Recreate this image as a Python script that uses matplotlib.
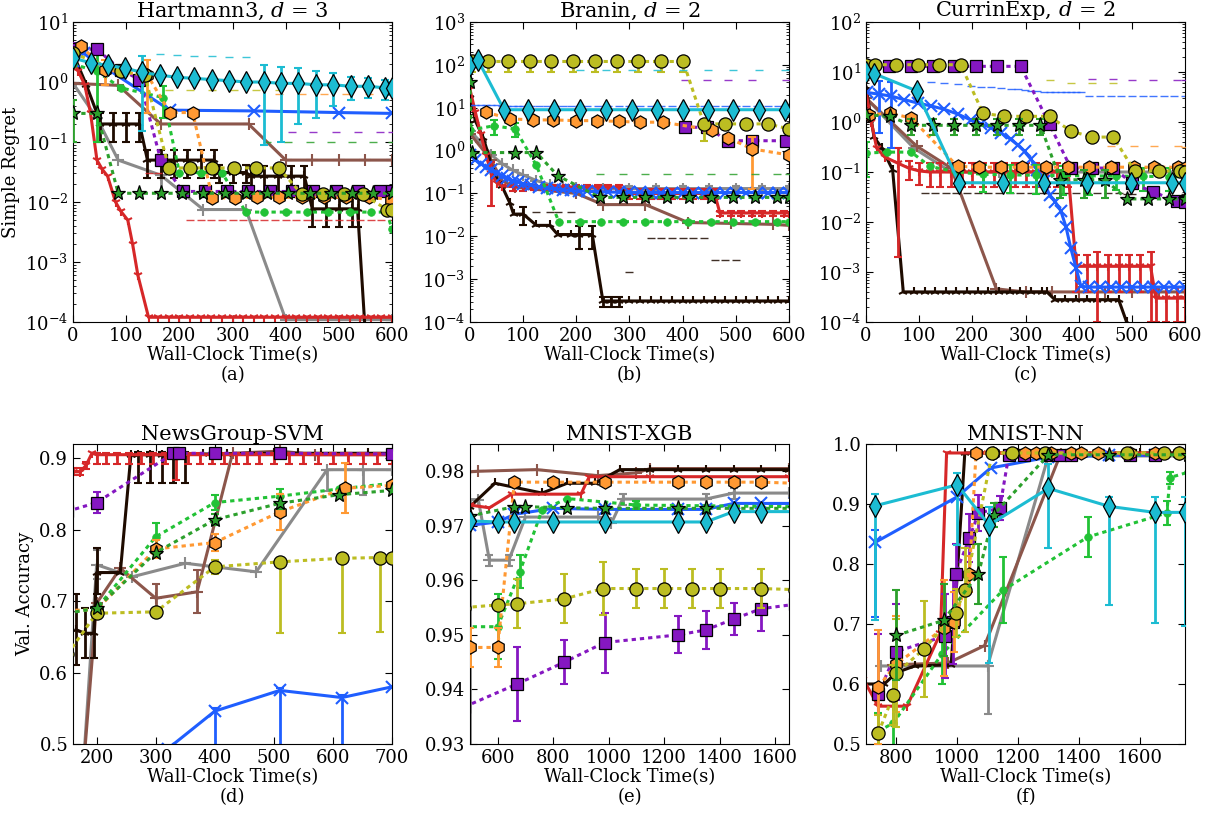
import matplotlib
matplotlib.use('Agg')
import matplotlib.pyplot as plt
from matplotlib.ticker import LogLocator, NullFormatter

plt.rcParams['font.family'] = ['DejaVu Serif']
plt.rcParams['mathtext.fontset'] = 'dejavuserif'

# ---------------- Panel (a) Hartmann3 ----------------
a_cyan_x = [0, 33, 65, 98, 130, 163, 196, 228, 261, 294, 326, 359, 391, 424, 457, 489, 522, 555, 587, 600]
a_cyan_y = [2.5, 2.1, 1.9, 1.7, 1.45, 1.3, 1.2, 1.15, 1.1, 1.05, 1.0, 1.0, 0.95, 0.95, 0.9, 0.9, 0.85, 0.85, 0.8, 0.8]
a_cyan_e = [0, 0, 0, 0, 1.3, 1.6, 1.6, 1.6, 1.6, 1.6, 1.6, 0.91, 0.85, 0.75, 0.65, 0.5, 0.35, 0.3, 0.3, 0.2]
a_blue_x = [0, 20, 182, 340, 500, 600]
a_blue_y = [2.2, 3.0, 0.34, 0.33, 0.31, 0.30]
a_red_x = [0, 10, 22, 33, 45, 55, 65, 80, 90, 103, 112, 122, 142, 160, 180, 200, 220, 240, 260, 280,
           300, 320, 340, 360, 380, 400, 420, 440, 460, 480, 500, 520, 540, 560, 580, 600]
a_red_y = [2.3, 1.5, 0.9, 0.3, 0.05, 0.035, 0.027, 0.01, 0.007, 0.005, 0.002, 0.0006, 0.00012, 0.00012,
           0.00012, 0.00012, 0.00012, 0.00012, 0.00012, 0.00012, 0.00012, 0.00012, 0.00012, 0.00012,
           0.00012, 0.00012, 0.00012, 0.00012, 0.00012, 0.00012, 0.00012, 0.00012, 0.00012, 0.00012,
           0.00012, 0.00012]
a_red_e = [0, 0, 0, 0, 0, 0, 0, 0, 0, 0, 0, 0, 0.03, 0.03, 0.03, 0.03, 0.0049, 0.0049, 0.0049, 0.0049,
           0.0049, 0.0049, 0.0049, 0.0049, 0.0049, 0.0049, 0.0049, 0.0049, 0.0049, 0.0049, 0.0049,
           0.0049, 0.0049, 0.0049, 0.0049, 0.0049]
a_black_x = [0, 25, 45, 50, 75, 100, 125, 140, 165, 190, 215, 240, 265, 275, 300, 325, 335, 360, 385, 410,
             435, 450, 475, 500, 525, 535, 552, 600]
a_black_y = [3.0, 0.9, 0.3, 0.2, 0.2, 0.2, 0.2, 0.05, 0.05, 0.05, 0.05, 0.05, 0.05, 0.031, 0.031, 0.031,
             0.027, 0.027, 0.027, 0.027, 0.027, 0.0077, 0.0077, 0.0077, 0.0077, 0.0077, 0.00003, 0.00003]
a_black_e = [0, 0, 0, 0.1, 0.1, 0.1, 0.1, 0.025, 0.025, 0.025, 0.025, 0.025, 0.025, 0.01, 0.01, 0.01,
             0.013, 0.013, 0.013, 0.013, 0.013, 0.0038, 0.0038, 0.0038, 0.0038, 0.0038, 0, 0]
a_brown_x = [0, 85, 165, 330, 400, 450, 500, 550, 600]
a_brown_y = [0.95, 0.88, 0.2, 0.2, 0.05, 0.05, 0.05, 0.05, 0.05]
a_gray_x = [0, 45, 85, 165, 245, 325, 400, 600]
a_gray_y = [0.95, 0.25, 0.05, 0.028, 0.0075, 0.0075, 0.00011, 0.00011]
a_gray_e = [0, 0, 0, 0.015, 0, 0, 0, 0]
a_purple_x = [0, 45, 90, 125, 165, 206, 248, 289, 329, 371, 411, 451, 495, 536, 577, 600]
a_purple_y = [3.6, 3.5, 1.6, 1.1, 0.05, 0.015, 0.015, 0.015, 0.015, 0.015, 0.015, 0.015, 0.015, 0.015,
              0.015, 0.015]
a_purple_e = [0.8, 0, 0, 0, 0, 0, 0, 0, 0, 0, 0.13, 0.13, 0.13, 0.13, 0.13, 0.13]
a_olive_x = [0, 90, 135, 180, 220, 261, 303, 345, 387, 430, 470, 510, 545, 590, 600]
a_olive_y = [3.0, 1.5, 1.3, 0.037, 0.037, 0.037, 0.037, 0.037, 0.037, 0.0135, 0.0135, 0.0135, 0.0135,
             0.0075, 0.0075]
a_olive_e = [0, 0, 0, 0.7, 0.7, 0.7, 0.7, 0.7, 0.7, 0, 0, 0, 0, 0, 0]
a_orange_x = [15, 60, 140, 182, 225, 262, 304, 346, 388, 430, 472, 514, 556, 598]
a_orange_y = [4.0, 1.6, 1.3, 0.31, 0.31, 0.0117, 0.0118, 0.012, 0.012, 0.012, 0.012, 0.012, 0.012, 0.011]
a_orange_e = [0, 0.7, 1.0, 0, 0, 0, 0, 0, 0.63, 0.63, 0.63, 0.63, 0.63, 0.63]
a_green_x = [0, 45, 85, 125, 165, 205, 245, 285, 325, 365, 405, 445, 485, 525, 565, 600]
a_green_y = [0.3, 0.3, 0.014, 0.014, 0.014, 0.014, 0.014, 0.014, 0.014, 0.014, 0.014, 0.014, 0.014,
             0.014, 0.014, 0.014]
a_green_e = [0.2, 0, 0, 0, 0, 0, 0, 0, 0, 0.086, 0.086, 0.086, 0.086, 0.086, 0.086, 0.086]
a_lime_x = [0, 45, 90, 170, 200, 240, 280, 325, 360, 400, 440, 480, 520, 560, 590, 600]
a_lime_y = [2.0, 1.5, 0.8, 0.55, 0.031, 0.031, 0.031, 0.0068, 0.0068, 0.0068, 0.0068, 0.0068, 0.0068,
            0.0068, 0.0068, 0.0035]
a_lime_e = [0, 1.4, 0, 0.3, 0, 0, 0, 0, 0, 0, 0, 0, 0, 0, 0, 0]

# ---------------- Panel (b) Branin ----------------
b_olive_x = [3, 33, 72, 113, 153, 194, 235, 276, 316, 360, 401, 440, 480, 520, 560, 600]
b_olive_y = [120, 120, 120, 120, 120, 120, 120, 120, 120, 120, 120, 4.2, 4.2, 4.2, 4.2, 3.2]
b_olive_elo = [50, 50, 50, 50, 50, 50, 50, 50, 50, 50, 50, 2.5, 0, 0, 0, 0]
b_olive_ehi = [0, 0, 0, 0, 0, 0, 0, 0, 0, 0, 0, 0, 0, 0, 0, 0]
b_cyan_x = [0, 15, 64, 110, 158, 207, 255, 304, 351, 400, 448, 495, 544, 592]
b_cyan_y = [100, 130, 9, 9, 9, 9, 9, 9, 9, 9, 9, 9, 9, 9]
b_cyan_e = [0, 0, 0, 0, 0, 68, 68, 68, 68, 68, 68, 68, 68, 68]
b_orange_x = [30, 76, 118, 157, 199, 239, 280, 319, 363, 455, 485, 530, 600]
b_orange_y = [7.9, 5.5, 5.2, 5.2, 5.0, 5.0, 4.8, 4.6, 4.6, 3.0, 2.0, 1.1, 0.79]
b_orange_e = [0, 0, 0, 0, 0, 0, 0, 0, 0, 0, 0, 0.97, 0]
b_purple_x = [404, 445, 485, 530, 595]
b_purple_y = [3.5, 3.5, 1.7, 1.7, 1.7]
b_purple_e = [42, 42, 42, 42, 42]
b_green_x = [0, 3, 85, 125, 165, 244, 287, 329, 370, 411, 453, 495, 536, 577, 600]
b_green_y = [40, 0.9, 0.9, 0.9, 0.26, 0.081, 0.081, 0.081, 0.081, 0.081, 0.081, 0.081, 0.081, 0.081, 0.081]
b_green_e = [0, 0, 0, 0, 0, 0.2, 0.2, 0.2, 0.2, 0.2, 0.2, 0.2, 0.2, 0.2, 0.2]
b_lime_x = [0, 45, 85, 125, 167, 207, 247, 288, 329, 370, 410, 454, 495, 536, 577, 600]
b_lime_y = [3.0, 3.8, 3.2, 0.45, 0.022, 0.022, 0.022, 0.022, 0.022, 0.022, 0.022, 0.022, 0.022, 0.022,
            0.022, 0.022]
b_lime_e = [0, 1.5, 1.1, 0, 0, 0, 0, 0, 0, 0, 0, 0, 0, 0, 0, 0]
b_red_x = [0, 10, 20, 30, 40, 50, 60, 80, 100, 120, 140, 160, 180, 200, 220, 240, 260, 280, 300, 320, 340,
           360, 380, 400, 420, 440, 460, 470, 490, 510, 530, 550, 570, 590, 600]
b_red_y = [27, 8, 2.5, 0.8, 0.3, 0.18, 0.15, 0.145, 0.145, 0.14, 0.14, 0.14, 0.14, 0.14, 0.14, 0.14, 0.14,
           0.14, 0.1, 0.1, 0.1, 0.1, 0.1, 0.1, 0.1, 0.1, 0.1, 0.035, 0.035, 0.035, 0.035, 0.035, 0.035,
           0.035, 0.035]
b_red_e = [0, 0, 0, 0, 0.25, 0, 0, 0.03, 0.03, 0.02, 0.02, 0.02, 0.02, 0.02, 0.02, 0.02, 0.02, 0.02,
           0.025, 0.025, 0.025, 0.025, 0.025, 0.025, 0.025, 0.025, 0.025, 0.005, 0.005, 0.005, 0.005,
           0.005, 0.005, 0.005, 0]
b_black_x = [0, 10, 25, 45, 60, 75, 82, 100, 125, 150, 165, 190, 205, 230, 250, 265, 280, 300, 320, 340,
             360, 380, 400, 420, 440, 460, 480, 500, 520, 540, 560, 580, 600]
b_black_y = [20, 5, 2, 0.3, 0.15, 0.06, 0.033, 0.033, 0.018, 0.018, 0.011, 0.011, 0.011, 0.011,
             0.00031, 0.00031, 0.00031, 0.00031, 0.00031, 0.00031, 0.00031, 0.00031, 0.00031, 0.00031,
             0.00031, 0.00031, 0.00031, 0.00031, 0.00031, 0.00031, 0.00031, 0.00031, 0.00031]
b_black_e = [0, 0, 0, 0, 0, 0, 0, 0.015, 0.019, 0.019, 0.025, 0.025, 0.006, 0.006, 0.00008, 0.00008,
             0.00008, 0.0012, 0, 0.009, 0.009, 0.009, 0.009, 0.009, 0.009, 0.0025, 0.0025, 0.0025,
             0, 0, 0, 0, 0]
b_brown_x = [0, 40, 60, 85, 200, 250, 330, 410, 490, 570, 600]
b_brown_y = [2.5, 0.6, 0.2, 0.14, 0.1, 0.055, 0.055, 0.021, 0.02, 0.019, 0.018]
b_gray_x = [0, 20, 40, 60, 80, 100, 125, 150, 175, 200, 250, 300, 350, 400, 450, 500, 550, 600]
b_gray_y = [2.9, 1.6, 0.8, 0.5, 0.35, 0.27, 0.2, 0.16, 0.145, 0.135, 0.13, 0.13, 0.13, 0.13, 0.13, 0.13,
            0.13, 0.13]
b_gray_e = [0, 0, 0, 0, 0, 0, 0, 0, 0, 0, 0, 0.02, 0.02, 0.02, 0.02, 0.02, 0.02, 0.02]
b_blue_x = [0, 10, 20, 30, 40, 50, 60, 70, 80, 90, 100, 115, 130, 145, 160, 175, 190, 205, 220, 240, 260,
            280, 300, 320, 340, 360, 380, 400, 420, 440, 460, 480, 500, 520, 540, 560, 580, 600]
b_blue_y = [0.8, 0.6, 0.5, 0.42, 0.35, 0.3, 0.26, 0.23, 0.2, 0.185, 0.17, 0.155, 0.145, 0.135, 0.128,
            0.122, 0.118, 0.114, 0.112, 0.11, 0.108, 0.107, 0.106, 0.106, 0.105, 0.105, 0.105, 0.105,
            0.105, 0.105, 0.105, 0.105, 0.105, 0.105, 0.105, 0.105, 0.105, 0.105]
b_blue_e = [11, 11, 11, 11, 11, 11, 11, 11, 11, 11, 11, 11, 11, 11, 11, 11, 11, 11, 11, 11, 11, 11, 11,
            11, 11, 11, 11, 11, 11, 11, 11, 11, 11, 11, 11, 11, 11, 11]

# ---------------- Panel (c) CurrinExp ----------------
c_olive_x = [0, 16, 56, 97, 138, 178, 220, 260, 300, 345, 385, 425, 465, 505, 550, 590, 600]
c_olive_y = [14, 14, 14, 14, 14, 14, 1.5, 1.3, 1.3, 1.3, 0.66, 0.5, 0.5, 0.105, 0.105, 0.105, 0.1]
c_olive_e = [0, 0, 0, 0, 0, 0, 0, 0, 0, 5.5, 5.5, 5.5, 5.5, 0, 0, 0, 0]
c_purple_x = [0, 44, 85, 125, 166, 207, 247, 291, 345, 385, 425, 465, 500, 540, 585, 600]
c_purple_y = [13, 13, 13, 13, 13, 13, 13, 13, 0.9, 0.12, 0.12, 0.12, 0.06, 0.04, 0.026, 0.025]
c_purple_e = [0, 0, 0, 0, 0, 0, 0, 0, 0, 0, 7, 7, 7, 7, 7, 7]
c_orange_x = [5, 45, 85, 172, 213, 254, 294, 338, 379, 420, 460, 504, 542, 586, 600]
c_orange_y = [1.4, 1.5, 1.2, 0.13, 0.125, 0.125, 0.125, 0.125, 0.125, 0.125, 0.125, 0.125, 0.125,
              0.125, 0.12]
c_orange_e = [0, 0, 0, 0, 0, 0, 0, 0, 0, 0, 0.2, 0.2, 0.2, 0.2, 0.2]
c_cyan_x = [0, 15, 95, 175, 257, 335, 416, 498, 576, 600]
c_cyan_y = [10, 9.3, 4.2, 0.061, 0.061, 0.061, 0.061, 0.061, 0.061, 0.061]
c_blue_x = [2, 25, 47, 72, 97, 122, 147, 172, 197, 216, 235, 254, 272, 285, 298, 310, 322, 334, 345, 356,
            366, 376, 385, 395, 404, 420, 440, 460, 480, 500, 520, 540, 560, 580, 600]
c_blue_y = [3.9, 3.6, 3.3, 2.8, 2.4, 2.1, 1.8, 1.45, 1.1, 0.93, 0.77, 0.6, 0.45, 0.35, 0.26, 0.18, 0.11,
            0.065, 0.035, 0.025, 0.017, 0.008, 0.003, 0.0012, 0.00052, 0.0005, 0.0005, 0.0005, 0.0005,
            0.0005, 0.0005, 0.0005, 0.0005, 0.0005, 0.0005]
c_blue_e = [0, 3, 3, 0, 0, 4.2, 4.2, 4.2, 4.2, 4.2, 4.2, 4.2, 4.2, 4.2, 4.2, 4.0, 4.0, 4.0, 4.0, 4.0,
            4.0, 4.0, 4.0, 4.0, 4.0, 3.3, 3.3, 3.3, 3.3, 3.3, 3.3, 3.3, 3.3, 3.3, 3.3]
c_red_x = [0, 10, 20, 35, 60, 80, 100, 120, 140, 160, 180, 200, 220, 240, 260, 280, 300, 320, 340, 360,
           380, 395, 415, 435, 455, 475, 495, 515, 535, 545, 565, 585, 600]
c_red_y = [4, 1.0, 0.3, 0.2, 0.15, 0.12, 0.105, 0.1, 0.1, 0.1, 0.1, 0.1, 0.1, 0.1, 0.1, 0.1, 0.1, 0.1,
           0.1, 0.1, 0.1, 0.0013, 0.0013, 0.0013, 0.0013, 0.0013, 0.0013, 0.0013, 0.0013, 0.0003, 0.0003,
           0.0003, 0.0003]
c_red_e = [0, 0, 0, 0, 0.148, 0.05, 0.05, 0.05, 0.05, 0.05, 0.05, 0.05, 0.05, 0.05, 0.05, 0.05, 0.05,
           0.05, 0.05, 0.05, 0.05, 0.0009, 0.0009, 0.0012, 0.0009, 0.0009, 0.0009, 0.0009, 0.0012,
           0.0002, 0.0002, 0.0002, 0.0002]
c_black_x = [0, 15, 30, 50, 70, 90, 110, 130, 150, 170, 190, 210, 230, 250, 270, 290, 310, 330, 340, 355,
             375, 395, 415, 435, 455, 475, 490, 500, 600]
c_black_y = [5, 0.5, 0.3, 0.11, 0.0004, 0.0004, 0.0004, 0.0004, 0.0004, 0.0004, 0.0004, 0.0004, 0.0004,
             0.0004, 0.0004, 0.0004, 0.0004, 0.0004, 0.0004, 0.00028, 0.00028, 0.00028, 0.00028,
             0.00028, 0.00028, 0.00028, 0.0001, 0.00005, 0.00005]
c_black_e = [0, 0, 0, 0, 0, 0, 0.037, 0.037, 0.037, 0.037, 0.037, 0.037, 0.037, 0.037, 0.037, 0.037,
             0.037, 0.037, 0.037, 0.037, 0.037, 0.037, 0.037, 0.037, 0.037, 0.037, 0.037, 0.037, 0.037]
c_brown_x = [0, 95, 160, 245, 300, 350, 400, 450, 500, 550, 600]
c_brown_y = [3.0, 0.33, 0.12, 0.00046, 0.0004, 0.0004, 0.0004, 0.0004, 0.0004, 0.0004, 0.0004]
c_gray_x = [0, 90, 160, 250, 350, 450, 550, 600]
c_gray_y = [3.0, 0.3, 0.1, 0.1, 0.1, 0.1, 0.1, 0.1]
c_green_x = [0, 45, 85, 125, 166, 206, 247, 288, 328, 365, 410, 450, 490, 530, 570, 600]
c_green_y = [1.4, 1.3, 0.86, 0.86, 0.86, 0.86, 0.86, 0.86, 0.86, 0.07, 0.07, 0.07, 0.029, 0.029, 0.029,
             0.029]
c_green_e = [0, 0, 0.3, 0.3, 0.3, 0.3, 0.3, 0.3, 0.3, 0.04, 0.04, 0.04, 0, 0, 0, 0]
c_lime_x = [0, 40, 85, 120, 170, 220, 270, 320, 370, 420, 470, 520, 570, 600]
c_lime_y = [0.24, 0.25, 0.25, 0.13, 0.1, 0.09, 0.088, 0.086, 0.085, 0.084, 0.083, 0.082, 0.081, 0.08]
c_lime_e = [0.16, 0, 0, 0, 0, 0.05, 0.05, 0.05, 0.05, 0.05, 0.04, 0.04, 0.04, 0]

# ---------------- Panel (d) NewsGroup-SVM ----------------
d_red_x = [160, 172, 182, 192, 200, 215, 235, 255, 275, 295, 315, 335, 355, 375, 395, 415, 435, 455, 475,
           500, 525, 550, 575, 600, 625, 650, 675, 700]
d_red_y = [0.881, 0.881, 0.89, 0.907, 0.905, 0.905, 0.905, 0.905, 0.905, 0.905, 0.905, 0.905, 0.905,
           0.905, 0.905, 0.905, 0.905, 0.905, 0.905, 0.905, 0.905, 0.905, 0.905, 0.905, 0.905, 0.905,
           0.905, 0.905]
d_red_elo = [0.005, 0.005, 0.005, 0, 0.013, 0.013, 0.013, 0.013, 0.013, 0.013, 0.013, 0.035, 0.013,
             0.013, 0.013, 0.013, 0.013, 0.013, 0.013, 0.013, 0.013, 0.013, 0.013, 0.013, 0.013, 0.013,
             0.013, 0.013]
d_red_ehi = [0.005, 0.005, 0.005, 0, 0.002, 0.002, 0.002, 0.002, 0.002, 0.002, 0.002, 0.002, 0.002,
             0.002, 0.002, 0.002, 0.002, 0.002, 0.002, 0.002, 0.002, 0.002, 0.002, 0.002, 0.002, 0.002,
             0.002, 0.002]
d_black_x = [165, 180, 195, 200, 240, 258, 270, 290, 310, 330, 350, 380, 420, 460, 500, 540, 580, 620, 660, 700]
d_black_y = [0.66, 0.655, 0.655, 0.74, 0.74, 0.905, 0.905, 0.905, 0.905, 0.905, 0.905, 0.906, 0.906,
             0.907, 0.907, 0.907, 0.907, 0.907, 0.907, 0.907]
d_black_elo = [0.05, 0.035, 0.035, 0.03, 0, 0, 0.04, 0.04, 0.04, 0.04, 0.04, 0, 0, 0, 0, 0, 0, 0, 0, 0]
d_black_ehi = [0.05, 0.035, 0.035, 0.035, 0, 0, 0.004, 0.004, 0.004, 0.004, 0.004, 0, 0, 0, 0, 0, 0, 0, 0, 0]
d_purple_x = [150, 200, 330, 340, 400, 510, 700]
d_purple_y = [0.8255, 0.838, 0.907, 0.907, 0.907, 0.907, 0.906]
d_purple_e = [0, 0.015, 0, 0, 0, 0, 0]
d_brown_x = [176, 200, 240, 300, 370, 430, 510, 570, 700]
d_brown_y = [0.45, 0.697, 0.746, 0.704, 0.713, 0.907, 0.91, 0.905, 0.905]
d_brown_e = [0, 0, 0, 0.02, 0.03, 0, 0, 0, 0]
d_gray_x = [176, 200, 260, 350, 470, 590, 650, 700]
d_gray_y = [0.45, 0.751, 0.734, 0.753, 0.741, 0.884, 0.884, 0.884]
d_gray_elo = [0, 0.02, 0, 0, 0, 0.03, 0.035, 0]
d_gray_ehi = [0, 0.02, 0, 0, 0, 0, 0, 0]
d_olive_x = [150, 200, 300, 400, 510, 615, 680, 700]
d_olive_y = [0.6255, 0.683, 0.685, 0.748, 0.755, 0.76, 0.761, 0.761]
d_olive_elo = [0, 0.003, 0, 0.01, 0.1, 0.105, 0.104, 0]
d_olive_ehi = [0, 0.003, 0, 0.01, 0, 0, 0, 0]
d_orange_x = [150, 200, 300, 400, 510, 620, 700]
d_orange_y = [0.687, 0.688, 0.773, 0.782, 0.825, 0.858, 0.862]
d_orange_e = [0, 0.005, 0.012, 0.012, 0.025, 0.035, 0]
d_green_x = [150, 200, 300, 400, 510, 610, 700]
d_green_y = [0.683, 0.69, 0.768, 0.814, 0.837, 0.849, 0.855]
d_green_e = [0, 0, 0, 0.008, 0.008, 0, 0]
d_lime_x = [150, 200, 300, 400, 510, 610, 700]
d_lime_y = [0.684, 0.69, 0.79, 0.838, 0.847, 0.857, 0.865]
d_lime_e = [0, 0, 0.02, 0.01, 0.01, 0, 0]
d_blue_x = [320, 400, 510, 615, 700]
d_blue_y = [0.493, 0.546, 0.575, 0.565, 0.58]
d_blue_elo = [0, 0.1, 0.1, 0.1, 0]
d_blue_ehi = [0, 0.004, 0.004, 0.004, 0]

# ---------------- Panel (e) MNIST-XGB ----------------
e_brown_x = [500, 530, 740, 960, 1100, 1150, 1650]
e_brown_y = [0.9799, 0.98, 0.9803, 0.9792, 0.9797, 0.9805, 0.9805]
e_black_x = [500, 590, 760, 850, 950, 1040, 1150, 1250, 1350, 1450, 1550, 1650]
e_black_y = [0.9735, 0.9778, 0.976, 0.9778, 0.9778, 0.9803, 0.9803, 0.9803, 0.9803, 0.9803, 0.9803, 0.9803]
e_red_x = [500, 570, 650, 900, 930, 1150, 1650]
e_red_y = [0.9738, 0.9733, 0.9758, 0.9758, 0.979, 0.979, 0.979]
e_orange_x = [500, 600, 660, 800, 985, 1250, 1350, 1450, 1550, 1670]
e_orange_y = [0.9477, 0.9477, 0.978, 0.978, 0.978, 0.978, 0.978, 0.978, 0.978, 0.9778]
e_orange_e = [0.0035, 0.0035, 0, 0, 0, 0, 0, 0, 0, 0]
e_gray_x = [500, 530, 570, 640, 700, 960, 1010, 1050, 1350, 1450, 1650]
e_gray_y = [0.9748, 0.9748, 0.9637, 0.9637, 0.9716, 0.9716, 0.9705, 0.9749, 0.9749, 0.976, 0.976]
e_gray_elo = [0.05, 0, 0.001, 0.001, 0, 0, 0, 0.001, 0.001, 0.001, 0]
e_gray_ehi = [0, 0, 0.001, 0.001, 0, 0, 0, 0.001, 0.001, 0.001, 0]
e_green_x = [500, 660, 700, 850, 985, 1250, 1350, 1670]
e_green_y = [0.9718, 0.9735, 0.9735, 0.9733, 0.9732, 0.9732, 0.9732, 0.9732]
e_lime_x = [480, 600, 680, 760, 850, 1100, 1670]
e_lime_y = [0.9515, 0.9515, 0.9616, 0.9729, 0.975, 0.9738, 0.9735]
e_lime_e = [0, 0.006, 0.003, 0, 0, 0.0008, 0]
e_blue_x = [500, 600, 660, 800, 985, 1250, 1350, 1450, 1550, 1670]
e_blue_y = [0.9701, 0.9707, 0.9721, 0.9732, 0.973, 0.973, 0.973, 0.9741, 0.9741, 0.9741]
e_cyan_x = [500, 600, 660, 800, 985, 1250, 1350, 1450, 1550, 1670]
e_cyan_y = [0.9709, 0.9707, 0.9707, 0.9707, 0.9707, 0.9707, 0.9707, 0.9726, 0.9726, 0.9726]
e_olive_x = [480, 600, 670, 840, 980, 1100, 1200, 1300, 1400, 1550, 1670]
e_olive_y = [0.955, 0.9555, 0.9557, 0.9566, 0.9585, 0.9585, 0.9585, 0.9585, 0.9585, 0.9585, 0.9583]
e_olive_e = [0, 0, 0.0045, 0.0045, 0.0048, 0.0035, 0.0035, 0.0035, 0.0035, 0.0035, 0]
e_purple_x = [480, 670, 840, 985, 1250, 1350, 1450, 1550, 1670]
e_purple_y = [0.9368, 0.941, 0.945, 0.9486, 0.95, 0.9509, 0.9529, 0.9548, 0.9556]
e_purple_e = [0, 0.0068, 0.004, 0.0055, 0.0034, 0.0035, 0.003, 0.004, 0]

# ---------------- Panel (f) MNIST-NN ----------------
f_red_x = [690, 740, 835, 945, 965, 1100, 1300, 1500, 1760]
f_red_y = [0.609, 0.563, 0.563, 0.685, 0.985, 0.985, 0.985, 0.985, 0.985]
f_black_x = [690, 760, 800, 860, 980, 1000, 1025, 1200, 1400, 1600, 1760]
f_black_y = [0.6, 0.6, 0.619, 0.63, 0.632, 0.78, 0.985, 0.985, 0.985, 0.985, 0.985]
f_cyan_x = [730, 1000, 1105, 1300, 1500, 1650, 1750]
f_cyan_y = [0.897, 0.932, 0.865, 0.926, 0.896, 0.886, 0.886]
f_cyan_elo = [0.19, 0.1, 0.23, 0.1, 0.165, 0.185, 0.19]
f_cyan_ehi = [0.02, 0.02, 0.03, 0.04, 0.015, 0.025, 0.025]
f_blue_x = [730, 1000, 1110, 1300, 1500, 1650]
f_blue_y = [0.836, 0.912, 0.96, 0.978, 0.981, 0.981]
f_blue_elo = [0.125, 0, 0, 0, 0, 0]
f_blue_ehi = [0.02, 0, 0, 0, 0, 0]
f_brown_x = [790, 970, 1090, 1340, 1760]
f_brown_y = [0.632, 0.635, 0.664, 0.983, 0.983]
f_gray_x = [750, 1100, 1300, 1760]
f_gray_y = [0.63, 0.63, 0.98, 0.98]
f_gray_elo = [0, 0.08, 0, 0]
f_gray_ehi = [0, 0, 0, 0]
f_purple_x = [740, 800, 960, 985, 995, 1040, 1070, 1140, 1170, 1220, 1298, 1337, 1375, 1569, 1652]
f_purple_y = [0.583, 0.654, 0.68, 0.703, 0.784, 0.843, 0.885, 0.893, 0.982, 0.982, 0.982, 0.982, 0.982,
              0.982, 0.982]
f_purple_e = [0.1, 0.08, 0.07, 0.07, 0.05, 0.04, 0.03, 0.02, 0, 0, 0, 0, 0, 0, 0]
f_olive_x = [740, 790, 800, 890, 995, 1025, 1115, 1180, 1290, 1560, 1680, 1730]
f_olive_y = [0.518, 0.581, 0.618, 0.658, 0.718, 0.757, 0.985, 0.985, 0.985, 0.985, 0.985, 0.985]
f_olive_e = [0.03, 0.05, 0.09, 0.08, 0.04, 0.07, 0, 0, 0, 0, 0, 0]
f_orange_x = [740, 800, 955, 990, 1040, 1062, 1119, 1222, 1259, 1309, 1375, 1409, 1464, 1569, 1652, 1729]
f_orange_y = [0.595, 0.633, 0.693, 0.703, 0.784, 0.985, 0.985, 0.985, 0.985, 0.985, 0.985, 0.985, 0.985,
              0.985, 0.985, 0.985]
f_orange_e = [0.095, 0.08, 0.08, 0.05, 0.03, 0, 0, 0, 0, 0, 0, 0, 0, 0, 0, 0]
f_green_x = [800, 955, 1070, 1120, 1300, 1500, 1760]
f_green_y = [0.681, 0.706, 0.784, 0.882, 0.982, 0.982, 0.982]
f_green_e = [0.075, 0.06, 0.05, 0.02, 0, 0, 0]
f_lime_x = [740, 790, 950, 1150, 1430, 1690, 1700, 1760]
f_lime_y = [0.521, 0.535, 0.65, 0.756, 0.845, 0.885, 0.944, 0.953]
f_lime_e = [0.03, 0.08, 0.05, 0.055, 0.033, 0.02, 0.01, 0]

# ---------------- styles ----------------
DOT = (0, (1.4, 1.3))
STYLES = {
    'gray':   dict(color='#8a8a8a', ls='-', marker='+', ms=9, fill=None),
    'brown':  dict(color='#8c564b', ls='-', marker='+', ms=9, fill=None),
    'black':  dict(color='#1e0b00', ls='-', marker='2', ms=7, fill=None),
    'red':    dict(color='#d62728', ls='-', marker='1', ms=7, fill=None),
    'blue':   dict(color='#1f5eff', ls='-', marker='x', ms=8, fill=None),
    'lime':   dict(color='#22c236', ls=DOT, marker='.', ms=11, fill='self'),
    'purple': dict(color='#8517c1', ls=DOT, marker='s', ms=8.5, fill='edge'),
    'orange': dict(color='#ff9933', ls=DOT, marker='h', ms=9.5, fill='edge'),
    'olive':  dict(color='#bcbd22', ls=DOT, marker='o', ms=9.5, fill='edge'),
    'green':  dict(color='#2ca02c', ls=DOT, marker='*', ms=11, fill='edge'),
    'cyan':   dict(color='#1cbcd2', ls='-', marker='d', ms=11, fill='edge'),
}
ORDER = ['gray', 'brown', 'black', 'red', 'blue', 'lime', 'purple', 'orange', 'olive', 'green', 'cyan']

PANELS = [
    dict(title='Hartmann3, $d$ = 3', log=True, xlim=(0, 600), ylim=(1e-4, 1e1), letter='(a)',
         ylabel='Simple Regret', xticks=[0, 100, 200, 300, 400, 500, 600], yticks=None,
         series={'cyan': (a_cyan_x, a_cyan_y, a_cyan_e), 'blue': (a_blue_x, a_blue_y, None),
                 'red': (a_red_x, a_red_y, a_red_e), 'black': (a_black_x, a_black_y, a_black_e),
                 'brown': (a_brown_x, a_brown_y, None), 'gray': (a_gray_x, a_gray_y, a_gray_e),
                 'purple': (a_purple_x, a_purple_y, a_purple_e), 'olive': (a_olive_x, a_olive_y, a_olive_e),
                 'orange': (a_orange_x, a_orange_y, a_orange_e), 'green': (a_green_x, a_green_y, a_green_e),
                 'lime': (a_lime_x, a_lime_y, a_lime_e)}),
    dict(title='Branin, $d$ = 2', log=True, xlim=(0, 600), ylim=(1e-4, 1e3), letter='(b)',
         ylabel=None, xticks=[0, 100, 200, 300, 400, 500, 600], yticks=None,
         series={'cyan': (b_cyan_x, b_cyan_y, b_cyan_e), 'blue': (b_blue_x, b_blue_y, b_blue_e),
                 'red': (b_red_x, b_red_y, b_red_e), 'black': (b_black_x, b_black_y, b_black_e),
                 'brown': (b_brown_x, b_brown_y, None), 'gray': (b_gray_x, b_gray_y, b_gray_e),
                 'purple': (b_purple_x, b_purple_y, b_purple_e),
                 'olive': (b_olive_x, b_olive_y, (b_olive_elo, b_olive_ehi)),
                 'orange': (b_orange_x, b_orange_y, b_orange_e), 'green': (b_green_x, b_green_y, b_green_e),
                 'lime': (b_lime_x, b_lime_y, b_lime_e)}),
    dict(title='CurrinExp, $d$ = 2', log=True, xlim=(0, 600), ylim=(1e-4, 1e2), letter='(c)',
         ylabel=None, xticks=[0, 100, 200, 300, 400, 500, 600], yticks=None,
         series={'cyan': (c_cyan_x, c_cyan_y, None), 'blue': (c_blue_x, c_blue_y, c_blue_e),
                 'red': (c_red_x, c_red_y, c_red_e), 'black': (c_black_x, c_black_y, c_black_e),
                 'brown': (c_brown_x, c_brown_y, None), 'gray': (c_gray_x, c_gray_y, None),
                 'purple': (c_purple_x, c_purple_y, c_purple_e), 'olive': (c_olive_x, c_olive_y, c_olive_e),
                 'orange': (c_orange_x, c_orange_y, c_orange_e), 'green': (c_green_x, c_green_y, c_green_e),
                 'lime': (c_lime_x, c_lime_y, c_lime_e)}),
    dict(title='NewsGroup-SVM', log=False, xlim=(160, 700), ylim=(0.5, 0.92), letter='(d)',
         ylabel='Val. Accuracy', xticks=[200, 300, 400, 500, 600, 700], yticks=[0.5, 0.6, 0.7, 0.8, 0.9],
         series={'blue': (d_blue_x, d_blue_y, (d_blue_elo, d_blue_ehi)),
                 'red': (d_red_x, d_red_y, (d_red_elo, d_red_ehi)),
                 'black': (d_black_x, d_black_y, (d_black_elo, d_black_ehi)),
                 'brown': (d_brown_x, d_brown_y, d_brown_e), 'gray': (d_gray_x, d_gray_y, (d_gray_elo, d_gray_ehi)),
                 'purple': (d_purple_x, d_purple_y, d_purple_e),
                 'olive': (d_olive_x, d_olive_y, (d_olive_elo, d_olive_ehi)),
                 'orange': (d_orange_x, d_orange_y, d_orange_e), 'green': (d_green_x, d_green_y, d_green_e),
                 'lime': (d_lime_x, d_lime_y, d_lime_e)}),
    dict(title='MNIST-XGB', log=False, xlim=(500, 1650), ylim=(0.93, 0.985), letter='(e)',
         ylabel=None, xticks=[600, 800, 1000, 1200, 1400, 1600], yticks=[0.93, 0.94, 0.95, 0.96, 0.97, 0.98],
         series={'cyan': (e_cyan_x, e_cyan_y, None), 'blue': (e_blue_x, e_blue_y, None),
                 'red': (e_red_x, e_red_y, None), 'black': (e_black_x, e_black_y, None),
                 'brown': (e_brown_x, e_brown_y, None), 'gray': (e_gray_x, e_gray_y, (e_gray_elo, e_gray_ehi)),
                 'purple': (e_purple_x, e_purple_y, e_purple_e), 'olive': (e_olive_x, e_olive_y, e_olive_e),
                 'orange': (e_orange_x, e_orange_y, e_orange_e), 'green': (e_green_x, e_green_y, None),
                 'lime': (e_lime_x, e_lime_y, e_lime_e)}),
    dict(title='MNIST-NN', log=False, xlim=(700, 1750), ylim=(0.5, 1.0), letter='(f)',
         ylabel=None, xticks=[800, 1000, 1200, 1400, 1600], yticks=[0.5, 0.6, 0.7, 0.8, 0.9, 1.0],
         series={'cyan': (f_cyan_x, f_cyan_y, (f_cyan_elo, f_cyan_ehi)),
                 'blue': (f_blue_x, f_blue_y, (f_blue_elo, f_blue_ehi)),
                 'red': (f_red_x, f_red_y, None), 'black': (f_black_x, f_black_y, None),
                 'brown': (f_brown_x, f_brown_y, None), 'gray': (f_gray_x, f_gray_y, (f_gray_elo, f_gray_ehi)),
                 'purple': (f_purple_x, f_purple_y, f_purple_e), 'olive': (f_olive_x, f_olive_y, f_olive_e),
                 'orange': (f_orange_x, f_orange_y, f_orange_e), 'green': (f_green_x, f_green_y, f_green_e),
                 'lime': (f_lime_x, f_lime_y, f_lime_e)}),
]


def draw_series(ax, key, x, y, err, logy, z):
    st = STYLES[key]
    col = st['color']
    kw = dict(color=col, ls=st['ls'], lw=2.2, marker=st['marker'], ms=st['ms'], zorder=z)
    if st['fill'] == 'edge':
        kw.update(mfc=col, mec='black', mew=0.9)
    elif st['fill'] == 'self':
        kw.update(mfc=col, mec=col, mew=0.5)
    else:
        kw.update(mec=col, mew=1.5)
    if err is not None:
        if isinstance(err, tuple):
            elo, ehi = err
        else:
            elo, ehi = err, err
        for xi, yi, a, b in zip(x, y, elo, ehi):
            if a == 0 and b == 0:
                continue
            lo, hi = yi - a, yi + b
            if logy and lo <= 0:
                ax.plot([xi], [hi], ls='none', marker='_', ms=6, mew=1.0, color=col, alpha=0.85,
                        zorder=z - 0.05)
            else:
                ax.plot([xi, xi], [lo, hi], color=col, lw=2, solid_capstyle='butt', zorder=z - 0.05)
                ax.plot([xi, xi], [lo, hi], ls='none', marker='_', ms=6, mew=1.5, color=col,
                        zorder=z - 0.05)
    ax.plot(x, y, **kw)


fig = plt.figure(figsize=(12.15, 8.13), dpi=100)
lefts = [0.0601, 0.3868, 0.7128]
bottoms = [0.6039, 0.0849]
W, H = 0.2626, 0.369

for i, p in enumerate(PANELS):
    ax = fig.add_axes([lefts[i % 3], bottoms[i // 3], W, H])
    if p['log']:
        ax.set_yscale('log')
    for j, key in enumerate(ORDER):
        if key in p['series']:
            x, y, err = p['series'][key]
            draw_series(ax, key, x, y, err, p['log'], 2 + j * 0.1)
    ax.set_xlim(*p['xlim'])
    ax.set_ylim(*p['ylim'])
    ax.set_xticks(p['xticks'])
    if p['log']:
        ax.yaxis.set_major_locator(LogLocator(base=10, numticks=20))
        ax.yaxis.set_minor_locator(LogLocator(base=10, subs=range(2, 10), numticks=20))
        ax.yaxis.set_minor_formatter(NullFormatter())
    else:
        ax.set_yticks(p['yticks'])
    ax.tick_params(direction='in', which='both', top=True, right=True, labelsize=13)
    ax.tick_params(which='major', length=5)
    ax.tick_params(which='minor', length=2.5)
    ax.set_title(p['title'], fontsize=15, pad=2)
    ax.set_xlabel('Wall-Clock Time(s)', fontsize=13, labelpad=1)
    if p['ylabel']:
        ax.set_ylabel(p['ylabel'], fontsize=13)
    ax.text(0.5, -0.177, p['letter'], transform=ax.transAxes, ha='center', va='center', fontsize=13)

fig.savefig('out.png', dpi=100)
